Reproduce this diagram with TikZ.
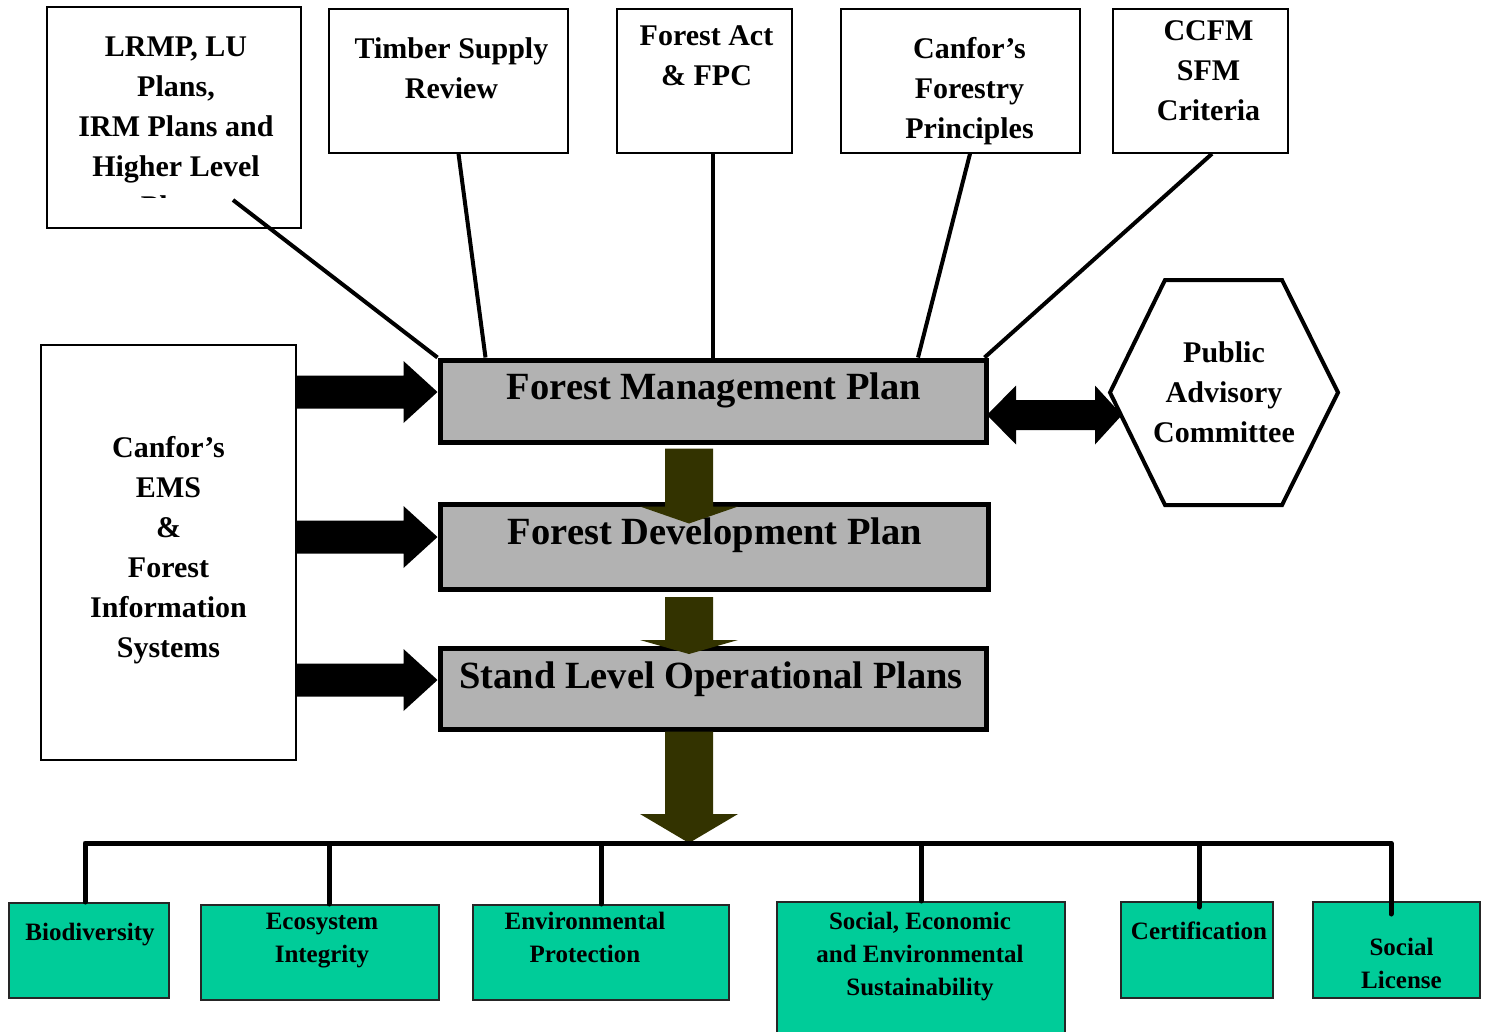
\documentclass[tikz,border=0pt]{standalone}
\usepackage{fontspec}
\setmainfont{Liberation Serif}
\usetikzlibrary{calc}
\definecolor{fmGray}{HTML}{B2B2B2}
\definecolor{fmOlive}{HTML}{333300}
\definecolor{fmGreen}{HTML}{00CC99}
\tikzset{
  srcbox/.style={draw, line width=1.5pt, fill=white, inner sep=0pt},
  srctext/.style={font=\fontsize{30}{40}\selectfont\bfseries, align=center},
  planbox/.style={draw, line width=5pt, fill=fmGray, inner sep=0pt},
  plantext/.style={font=\fontsize{38.5}{45}\selectfont\bfseries},
  goalbox/.style={draw=black!85, line width=2pt, fill=fmGreen, inner sep=0pt},
  goaltext/.style={font=\fontsize{25}{33}\selectfont\bfseries, align=center},
  hexline/.style={line width=4pt, line join=miter},
  linkline/.style={line width=4pt},
  busline/.style={line width=5pt, line cap=round, line join=round},
  flowarrow/.style={fill=fmOlive}
}
% horizontal block arrow: tail, tip
\newcommand{\hblock}[2]{%
  \fill ($(#1)+(0,-16.5)$) -- ($(#2)+(-34,-16.5)$) -- ($(#2)+(-34,-31)$) -- (#2)
    -- ($(#2)+(-34,31)$) -- ($(#2)+(-34,16.5)$) -- ($(#1)+(0,16.5)$) -- cycle;}
% vertical block arrow: tail, tip, head length
\newcommand{\vblock}[3]{%
  \fill[flowarrow] ($(#1)+(-24,0)$) -- ($(#2)+(-24,-#3)$) -- ($(#2)+(-49,-#3)$) -- (#2)
    -- ($(#2)+(49,-#3)$) -- ($(#2)+(24,-#3)$) -- ($(#1)+(24,0)$) -- cycle;}

\begin{document}
\begin{tikzpicture}[x=1pt, y=-1pt]
  \useasboundingbox (0,0) rectangle (1488,1031);

  % sources feeding the management plan
  \node[srcbox, minimum width=254pt, minimum height=221pt] (lrmp) at (174,117.5) {};
  \begin{scope}
    \clip (lrmp.north west) rectangle ([yshift=31.5pt]lrmp.south east);
    \node[srctext] (lrmptxt) at ([shift={(2,9)}]lrmp.center) {LRMP, LU\\Plans,\\IRM Plans and\\Higher Level\\Plans};
  \end{scope}
  \node[srcbox, minimum width=239pt, minimum height=144pt,
    label={[srctext, shift={(3,-13)}]center:Timber Supply\\Review}] (tsr) at (448.5,81) {};
  \node[srcbox, minimum width=175pt, minimum height=144pt,
    label={[srctext, shift={(2,-25)}]center:Forest Act\\\& FPC}] (fact) at (704.5,81) {};
  \node[srcbox, minimum width=239pt, minimum height=144pt,
    label={[srctext, shift={(9,10)}]center:Canfor’s\\Forestry\\Principles}] (cfp) at (960.5,81) {};
  \node[srcbox, minimum width=175pt, minimum height=144pt,
    label={[srctext, shift={(8,-10)}]center:CCFM\\SFM\\Criteria}] (ccfm) at (1200.5,81) {};

  % plan levels
  \node[planbox, minimum width=546pt, minimum height=82pt,
    label={[plantext, shift={(1,-11)}]center:Forest Management Plan}] (fmp) at (713,401) {};
  \node[planbox, minimum width=548pt, minimum height=85pt,
    label={[plantext, shift={(1,-11)}]center:Forest Development Plan}] (fdp) at (714,546.5) {};
  \node[planbox, minimum width=546pt, minimum height=81pt,
    label={[plantext, shift={(-2,-9)}]center:Stand Level Operational Plans}] (slop) at (713,688.5) {};

  \draw[linkline] ([shift={(59,-28.75)}]lrmp.south) -- (fmp.north west);
  \draw[linkline] ([xshift=10pt]tsr.south) -- ([xshift=48pt]fmp.north west);
  \draw[linkline] ([xshift=8.5pt]fact.south) -- (fmp.north);
  \draw[linkline] ([xshift=9.5pt]cfp.south) -- ([xshift=205pt]fmp.north);
  \draw[linkline] ([xshift=11.5pt]ccfm.south) -- ([xshift=-4pt]fmp.north east);

  \coordinate (bus) at ([shift={(-24,111.5)}]slop.south);
  \vblock{[shift={(-24,4)}]fmp.south}{[shift={(-25,22)}]fdp.north}{17}
  \vblock{[shift={(-25,5.5)}]fdp.south}{[shift={(-24,8.5)}]slop.north}{14}
  \vblock{[shift={(-24,0)}]slop.south}{bus}{29}

  % EMS inputs
  \node[srcbox, minimum width=255pt, minimum height=415pt,
    label={[srctext, shift={(0,-2)}]center:Canfor’s\\EMS\\\&\\Forest\\Information\\Systems}] (ems) at (168.5,552.5) {};
  \coordinate (in1) at ([yshift=9pt]fmp.west);
  \coordinate (in2) at ([yshift=9.5pt]fdp.west);
  \coordinate (in3) at ([yshift=8.5pt]slop.west);
  \coordinate (out1) at (ems.east |- in1);
  \coordinate (out2) at (ems.east |- in2);
  \coordinate (out3) at (ems.east |- in3);
  \hblock{out1}{in1}
  \hblock{out2}{in2}
  \hblock{out3}{in3}

  % advisory committee
  \node[srctext, minimum width=228pt, minimum height=225pt, inner sep=0pt, outer sep=0pt] (pac)
    at (1224,392.5) {Public\\Advisory\\Committee};
  \draw[hexline] (pac.west) -- ([xshift=55pt]pac.north west) -- ([xshift=-56pt]pac.north east)
    -- (pac.east) -- ([xshift=-56pt]pac.south east) -- ([xshift=55pt]pac.south west) -- cycle;
  \coordinate (pl) at ([shift={(-1.5,14)}]fmp.east);
  \coordinate (pr) at ([shift={(12,22.5)}]pac.west);
  \fill (pl) -- ($(pl)+(29,-29.5)$) -- ($(pl)+(29,-15)$) -- ($(pr)+(-27,-15)$) -- ($(pr)+(-27,-29.5)$)
    -- (pr) -- ($(pr)+(-27,29.5)$) -- ($(pr)+(-27,15)$) -- ($(pl)+(29,15)$) -- ($(pl)+(29,29.5)$) -- cycle;

  % outcomes
  \node[goalbox, minimum width=160pt, minimum height=95pt,
    label={[goaltext, shift={(1,-16)}]center:Biodiversity}] (bio) at (89,950.5) {};
  \node[goalbox, minimum width=238pt, minimum height=95pt,
    label={[goaltext, shift={(2,-12)}]center:Ecosystem\\Integrity}] (eco) at (320,952.5) {};
  \node[goalbox, minimum width=256pt, minimum height=95pt,
    label={[goaltext, shift={(-16,-15)}]center:Environmental\\Protection}] (env) at (601,952.5) {};
  \node[goalbox, minimum width=288pt, minimum height=142pt,
    label={[goaltext, shift={(-1,-16)}]center:Social, Economic\\and Environmental\\Sustainability}] (ses) at (921,973) {};
  \node[goalbox, minimum width=152pt, minimum height=96pt,
    label={[goaltext, shift={(2,-19)}]center:Certification}] (cert) at (1197,950) {};
  \node[goalbox, minimum width=167pt, minimum height=96pt,
    label={[goaltext, shift={(5,13)}]center:Social\\License}] (sl) at (1396.5,950) {};

  \draw[busline] ([xshift=-4pt]bio.north) |- (bus);
  \draw[busline] ([xshift=9pt]eco.north) |- (bus);
  \draw[busline] (env.north) |- (bus);
  \draw[busline] (ses.north) |- (bus);
  \draw[busline] ([xshift=2pt, yshift=-6pt]cert.north) |- (bus);
  \draw[busline] ([xshift=-5.5pt, yshift=-13pt]sl.north) |- (bus);
\end{tikzpicture}
\end{document}
